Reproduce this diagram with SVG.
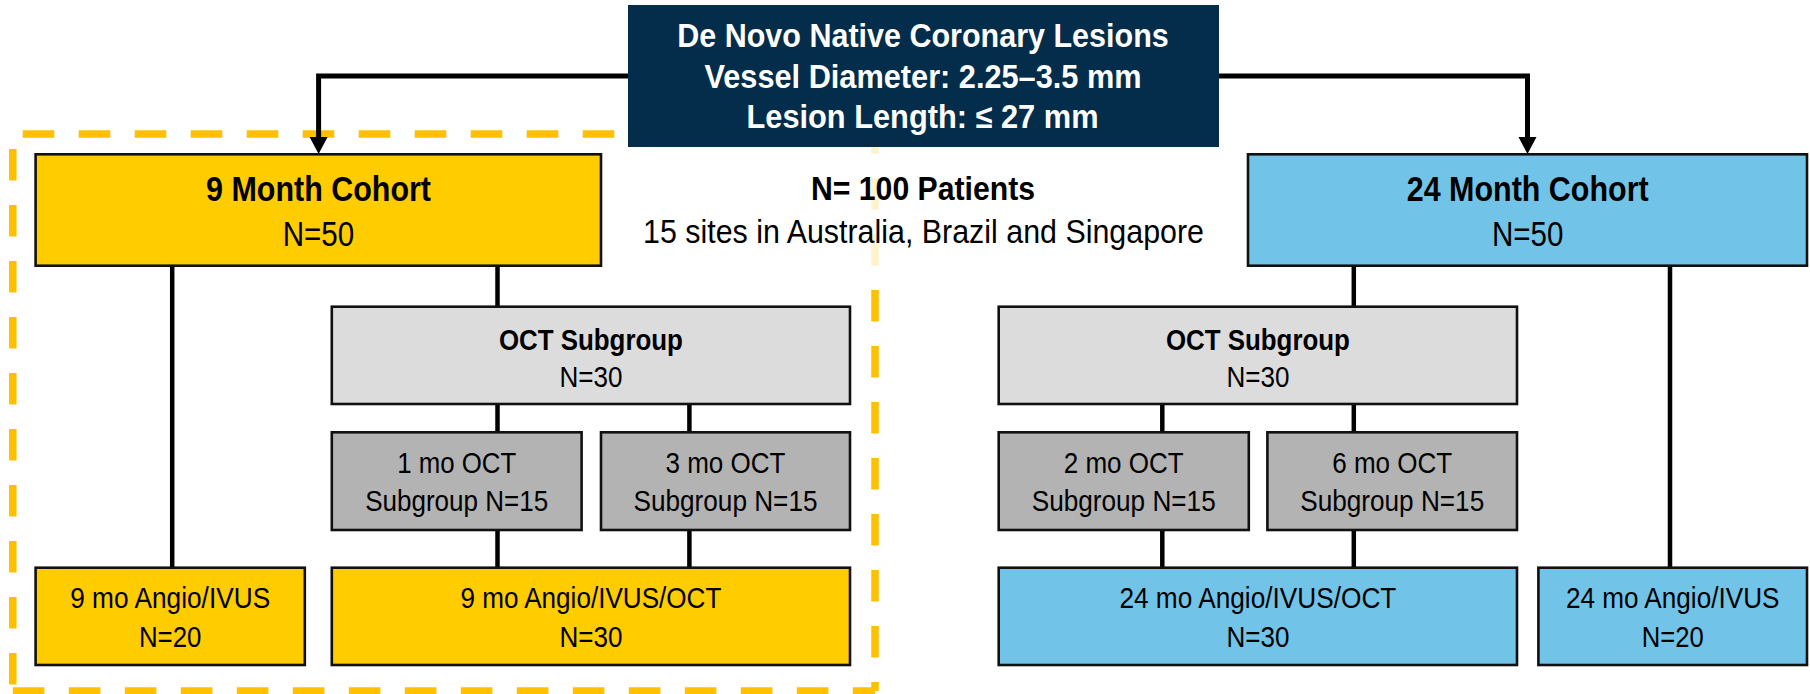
<svg xmlns="http://www.w3.org/2000/svg" width="1810" height="694" viewBox="0 0 1810 694">
<defs>
<style>
.box{stroke:#111;stroke-width:2.6}
.dark{fill:#032D4A;stroke:none}
.yel{fill:#FFCC00}
.blue{fill:#71C4E8}
.lg{fill:#DCDCDC}
.mg{fill:#B3B3B3}
.conn{stroke:#000;stroke-width:4.5;fill:none}
.arr{stroke:#000;stroke-width:5;fill:none}
.dash{stroke:#FFC000;stroke-width:7.5;fill:none;stroke-dasharray:31.6 24.4}
text{font-family:"Liberation Sans",Arial,sans-serif;text-anchor:middle;fill:#000}
.b{font-weight:bold}
.t{font-size:34.5px}
.m{font-size:29px}
.w{fill:#fff;font-size:33px;font-weight:bold}
.c{font-size:33px}
</style>
<marker id="ah" viewBox="0 0 18 17" refX="9" refY="17" markerWidth="18" markerHeight="17" markerUnits="userSpaceOnUse" orient="auto-start-reverse">
<path d="M0,0 L18,0 L9,17 Z" fill="#000"/>
</marker>
</defs>
<rect width="1810" height="694" fill="#fff"/>
<g id="dashed-frame">
<path class="dash" d="M22.7,134 H875"/>
<path class="dash" d="M12.8,149 V691"/>
<path class="dash" d="M12.8,691 H875"/>
<path class="dash" d="M875,122 V691"/>
</g>
<g id="connectors">
<path class="arr" d="M628,76 H318.6 V137"/>
<path d="M309.6,137 L327.6,137 L318.6,154 Z" fill="#000"/>
<path class="arr" d="M1219,76 H1527.5 V137"/>
<path d="M1518.5,137 L1536.5,137 L1527.5,154 Z" fill="#000"/>
<path class="conn" d="M172.2,265.7 V567.7"/>
<path class="conn" d="M497.5,265.7 V306.7"/>
<path class="conn" d="M497.5,404 V432.3"/>
<path class="conn" d="M689.4,404 V432.3"/>
<path class="conn" d="M497.5,530 V567.7"/>
<path class="conn" d="M689.4,530 V567.7"/>
<path class="conn" d="M1353.8,265.7 V306.7"/>
<path class="conn" d="M1670,265.7 V567.7"/>
<path class="conn" d="M1162.3,404 V432.3"/>
<path class="conn" d="M1353.8,404 V432.3"/>
<path class="conn" d="M1162.3,530 V567.7"/>
<path class="conn" d="M1353.8,530 V567.7"/>
</g>
<g id="summary">
<rect x="636" y="147" width="574" height="128" fill="#fff" opacity="0.8"/>
<text class="c b" x="923" y="200" textLength="224" lengthAdjust="spacingAndGlyphs">N= 100 Patients</text>
<text class="c" x="923.5" y="243.3" textLength="561" lengthAdjust="spacingAndGlyphs">15 sites in Australia, Brazil and Singapore</text>
</g>
<g id="root">
<rect class="dark" x="628" y="5" width="591" height="142"/>
<text class="w" x="923" y="46.5" textLength="491.5" lengthAdjust="spacingAndGlyphs">De Novo Native Coronary Lesions</text>
<text class="w" x="923" y="87.5" textLength="437" lengthAdjust="spacingAndGlyphs">Vessel Diameter: 2.25–3.5 mm</text>
<text class="w" x="922.5" y="128" textLength="352" lengthAdjust="spacingAndGlyphs">Lesion Length: ≤ 27 mm</text>
</g>
<g id="cohort9">
<rect class="box yel" x="35.6" y="154.3" width="565.4" height="111.4"/>
<text class="t b" x="318.5" y="200.5" textLength="225" lengthAdjust="spacingAndGlyphs">9 Month Cohort</text>
<text class="t" x="318.5" y="246" textLength="71.5" lengthAdjust="spacingAndGlyphs">N=50</text>
</g>
<g id="cohort24">
<rect class="box blue" x="1248" y="154.3" width="559" height="111.4"/>
<text class="t b" x="1527.7" y="200.5" textLength="242" lengthAdjust="spacingAndGlyphs">24 Month Cohort</text>
<text class="t" x="1527.7" y="246" textLength="71.5" lengthAdjust="spacingAndGlyphs">N=50</text>
</g>
<g id="oct9">
<rect class="box lg" x="331.8" y="306.7" width="518.2" height="97.3"/>
<text class="m b" x="590.9" y="350" textLength="184" lengthAdjust="spacingAndGlyphs">OCT Subgroup</text>
<text class="m" x="590.9" y="386.5" textLength="63" lengthAdjust="spacingAndGlyphs">N=30</text>
</g>
<g id="oct24">
<rect class="box lg" x="998.7" y="306.7" width="518.3" height="97.3"/>
<text class="m b" x="1257.9" y="350" textLength="184" lengthAdjust="spacingAndGlyphs">OCT Subgroup</text>
<text class="m" x="1257.9" y="386.5" textLength="63" lengthAdjust="spacingAndGlyphs">N=30</text>
</g>
<g id="oct1mo">
<rect class="box mg" x="331.8" y="432.3" width="249.8" height="97.7"/>
<text class="m" x="456.7" y="473.3" textLength="119" lengthAdjust="spacingAndGlyphs">1 mo OCT</text>
<text class="m" x="456.7" y="511" textLength="183" lengthAdjust="spacingAndGlyphs">Subgroup N=15</text>
</g>
<g id="oct3mo">
<rect class="box mg" x="601" y="432.3" width="249" height="97.7"/>
<text class="m" x="725.5" y="473.3" textLength="120" lengthAdjust="spacingAndGlyphs">3 mo OCT</text>
<text class="m" x="725.5" y="511" textLength="184" lengthAdjust="spacingAndGlyphs">Subgroup N=15</text>
</g>
<g id="oct2mo">
<rect class="box mg" x="998.7" y="432.3" width="250.1" height="97.7"/>
<text class="m" x="1123.7" y="473.3" textLength="120" lengthAdjust="spacingAndGlyphs">2 mo OCT</text>
<text class="m" x="1123.7" y="511" textLength="184" lengthAdjust="spacingAndGlyphs">Subgroup N=15</text>
</g>
<g id="oct6mo">
<rect class="box mg" x="1267.4" y="432.3" width="249.6" height="97.7"/>
<text class="m" x="1392.2" y="473.3" textLength="120" lengthAdjust="spacingAndGlyphs">6 mo OCT</text>
<text class="m" x="1392.2" y="511" textLength="184" lengthAdjust="spacingAndGlyphs">Subgroup N=15</text>
</g>
<g id="angio9">
<rect class="box yel" x="35.6" y="567.7" width="269.2" height="97.3"/>
<text class="m" x="170.2" y="608.3" textLength="200" lengthAdjust="spacingAndGlyphs">9 mo Angio/IVUS</text>
<text class="m" x="170.2" y="646.7" textLength="62.5" lengthAdjust="spacingAndGlyphs">N=20</text>
</g>
<g id="angiooct9">
<rect class="box yel" x="331.8" y="567.7" width="518.2" height="97.3"/>
<text class="m" x="590.9" y="608.3" textLength="261" lengthAdjust="spacingAndGlyphs">9 mo Angio/IVUS/OCT</text>
<text class="m" x="590.9" y="646.7" textLength="63" lengthAdjust="spacingAndGlyphs">N=30</text>
</g>
<g id="angiooct24">
<rect class="box blue" x="998.7" y="567.7" width="518.3" height="97.3"/>
<text class="m" x="1257.9" y="608.3" textLength="277" lengthAdjust="spacingAndGlyphs">24 mo Angio/IVUS/OCT</text>
<text class="m" x="1257.9" y="646.7" textLength="63" lengthAdjust="spacingAndGlyphs">N=30</text>
</g>
<g id="angio24">
<rect class="box blue" x="1538.4" y="567.7" width="268.6" height="97.3"/>
<text class="m" x="1672.7" y="608.3" textLength="213.6" lengthAdjust="spacingAndGlyphs">24 mo Angio/IVUS</text>
<text class="m" x="1672.7" y="646.7" textLength="62" lengthAdjust="spacingAndGlyphs">N=20</text>
</g>
</svg>
